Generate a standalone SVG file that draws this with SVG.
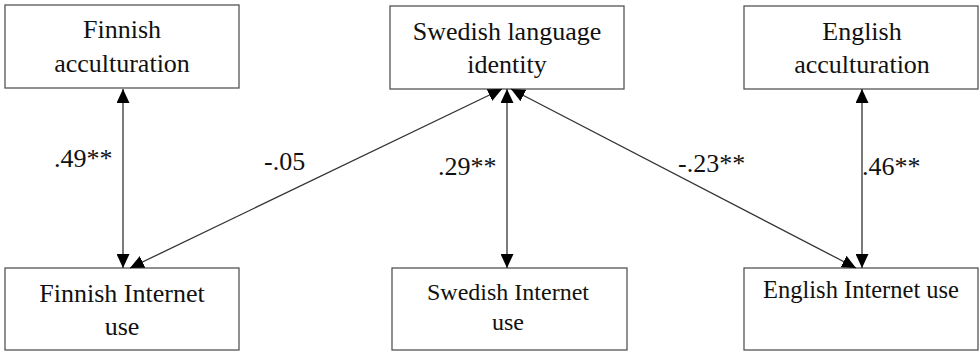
<svg xmlns="http://www.w3.org/2000/svg" width="980" height="351" viewBox="0 0 980 351">
<style>
.box{fill:#fff;stroke:#555;stroke-width:1.3}
.t{font-size:26px;fill:#111;text-anchor:middle}
.lbl{font-size:26px;fill:#111}
.edge{stroke:#333;stroke-width:1.3;fill:none;marker-start:url(#ah);marker-end:url(#ah)}
</style>
<defs>
<marker id="ah" markerUnits="userSpaceOnUse" markerWidth="14" markerHeight="13" refX="14" refY="6.5" orient="auto-start-reverse">
<path d="M0,0 L14,6.5 L0,13 z" fill="#000"/>
</marker>
</defs>
<rect width="980" height="351" fill="#fff"/>
<g font-family="Liberation Serif, serif">
<g id="n-finnish-acc">
<rect class="box" x="5" y="5" width="234" height="83"/>
<text class="t" x="122" y="38">Finnish</text>
<text class="t" x="122" y="72">acculturation</text>
</g>
<g id="n-swedish-id">
<rect class="box" x="390" y="6" width="234" height="83"/>
<text class="t" x="507" y="40">Swedish language</text>
<text class="t" x="507" y="73">identity</text>
</g>
<g id="n-english-acc">
<rect class="box" x="744" y="6" width="234" height="83"/>
<text class="t" x="862" y="40">English</text>
<text class="t" x="862" y="73">acculturation</text>
</g>
<g id="n-finnish-net">
<rect class="box" x="5" y="268" width="234" height="82"/>
<text class="t" x="122" y="302">Finnish Internet</text>
<text class="t" x="122" y="335">use</text>
</g>
<g id="n-swedish-net">
<rect class="box" x="392" y="268" width="235" height="82"/>
<text class="t" x="508" y="300" style="font-size:24px">Swedish Internet</text>
<text class="t" x="508" y="330" style="font-size:24px">use</text>
</g>
<g id="n-english-net">
<rect class="box" x="744" y="268" width="234" height="82"/>
<text class="t" x="861" y="298" style="font-size:24.5px">English Internet use</text>
</g>
<g id="connectors">
<line class="edge" x1="123" y1="89" x2="123" y2="268"/>
<line class="edge" x1="507" y1="89" x2="507" y2="268"/>
<line class="edge" x1="862" y1="89" x2="862" y2="268"/>
<line class="edge" x1="502" y1="89" x2="130" y2="268"/>
<line class="edge" x1="511" y1="89" x2="856" y2="268"/>
</g>
<g id="labels">
<text class="lbl" x="54" y="167">.49**</text>
<text class="lbl" x="264" y="170">-.05</text>
<text class="lbl" x="438" y="175">.29**</text>
<text class="lbl" x="678" y="172">-.23**</text>
<text class="lbl" x="862" y="175">.46**</text>
</g>
</g>
</svg>
